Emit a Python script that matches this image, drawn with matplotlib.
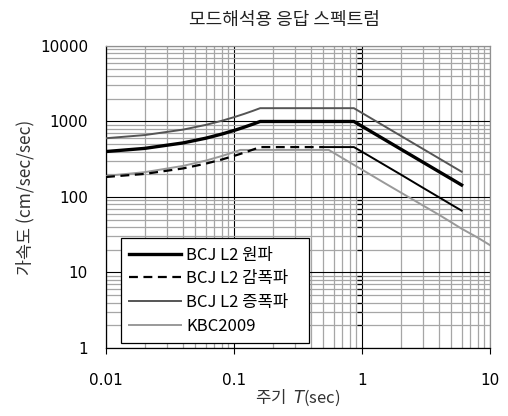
"""Mode-analysis response spectrum (BCJ L2 vs KBC2009)."""
import numpy as np, matplotlib
matplotlib.use('Agg')
import matplotlib.pyplot as plt

plt.rcParams['font.family'] = ['Noto Sans CJK KR', 'DejaVu Sans']
plt.rcParams['axes.unicode_minus'] = False

# periods (sec) and spectral acceleration (cm/sec/sec)
T_bcj = [0.01, 0.02, 0.04, 0.06, 0.08, 0.10, 0.12, 0.14, 0.16, 0.864,
         1.0, 1.5, 2.0, 3.0, 4.0, 5.0, 6.0]
sa_orig = [400, 440, 520, 600, 680, 760, 840, 920, 1000, 1000,
           864, 576, 432, 288, 216, 173, 144]
sa_amp = [600, 660, 780, 900, 1020, 1140, 1260, 1380, 1500, 1500,
          1296, 864, 648, 432, 324, 259, 216]

T_damp = [0.01, 0.02, 0.04, 0.06, 0.08, 0.10, 0.12, 0.14, 0.16, 0.5, 0.864,
          1.0, 1.5, 2.0, 3.0, 4.0, 5.0, 6.0]
sa_damp = [184, 202, 239, 276, 313, 350, 386, 423, 458, 458, 458,
           397, 265, 199, 132, 99, 79, 66]
n_dash = 10  # dashed part ends at T=0.5, solid afterwards

T_kbc = [0.01, 0.02, 0.04, 0.06, 0.08, 0.10, 0.112, 0.55, 0.7,
         1.0, 1.5, 2.0, 3.0, 4.0, 5.0, 6.0, 8.0, 10.0]
sa_kbc = [190, 213, 258, 303, 348, 393, 420, 420, 329,
          230, 153, 115, 77, 58, 46, 38, 29, 23]

labels = ['BCJ L2 원파', 'BCJ L2 감폭파', 'BCJ L2 증폭파', 'KBC2009']
x_ticks = [0.01, 0.1, 1, 10]
y_ticks = [1, 10, 100, 1000, 10000]
num_font = ['DejaVu Sans']

fig = plt.figure(figsize=(5.08, 4.16), dpi=100)
ax = fig.add_axes([0.2087, 0.1635, 0.7559, 0.7260])
ax.set_xscale('log')
ax.set_yscale('log')
ax.set_xlim(0.01, 10)
ax.set_ylim(1, 10000)

minor = [m for m in range(2, 10)]
ax.xaxis.set_minor_locator(matplotlib.ticker.LogLocator(base=10, subs=minor))
ax.yaxis.set_minor_locator(matplotlib.ticker.LogLocator(base=10, subs=minor))
ax.grid(which='minor', color='#a6a6a6', linewidth=0.9)
ax.grid(which='major', color='black', linewidth=0.8)
ax.set_axisbelow(True)

ax.plot(T_kbc, sa_kbc, color='#999999', lw=1.4, label=labels[3], zorder=3)
ax.plot(T_bcj, sa_amp, color='#555555', lw=1.4, label=labels[2], zorder=4)
ax.plot(T_damp[:n_dash], sa_damp[:n_dash], color='black', lw=1.6,
        ls=(0, (4, 2.5)), label=labels[1], zorder=5)
ax.plot(T_damp[n_dash - 1:], sa_damp[n_dash - 1:], color='black', lw=1.4, zorder=5)
ax.plot(T_bcj, sa_orig, color='black', lw=2.4, label=labels[0], zorder=6)

# y axis crosses at T=1 in the original, with its minor ticks there
ym = [m * 10.0 ** e for e in range(0, 4) for m in minor]
ax.plot(np.ones(len(ym)), ym, ls='none', marker=0, ms=3.5, mew=0.9,
        color='black', zorder=2)

for s in ['left', 'bottom']:
    ax.spines[s].set_color('black')
    ax.spines[s].set_linewidth(0.9)
for s in ['top', 'right']:
    ax.spines[s].set_color('#909090')
    ax.spines[s].set_linewidth(0.9)

ax.set_xticks(x_ticks)
ax.set_xticklabels(['0.01', '0.1', '1', '10'], family=num_font, fontsize=11)
ax.set_yticks(y_ticks)
ax.set_yticklabels([str(v) for v in y_ticks], family=num_font, fontsize=11)
ax.tick_params(axis='x', which='major', direction='out', length=4, width=0.8,
               pad=14, colors='black')
ax.tick_params(axis='y', which='major', length=0, pad=13)
ax.tick_params(which='minor', length=0)

ax.set_xlabel('주기  $\\mathit{T}$(sec)', fontsize=12, labelpad=0,
              color='#333333', fontweight='light')
ax.set_ylabel('가속도 (cm/sec/sec)', fontsize=12.5, labelpad=4,
              color='#333333', fontweight='light')
fig.text(0.559, 0.953, '모드해석용 응답 스펙트럼', ha='center', va='center',
         fontsize=13, color='#222222', fontweight='light')

h, l = ax.get_legend_handles_labels()
hd = dict(zip(l, h))
leg = ax.legend([hd[x] for x in labels], labels, loc='lower left',
                bbox_to_anchor=(0.039, 0.017, 0.49, 0.3), mode='expand',
                fontsize=12, frameon=True,
                fancybox=False, framealpha=1, edgecolor='black',
                handlelength=3.1, handletextpad=0.3, labelspacing=0.4,
                borderpad=0.5, borderaxespad=0)
leg.get_frame().set_linewidth(0.9)

fig.savefig('out.png', dpi=100)
